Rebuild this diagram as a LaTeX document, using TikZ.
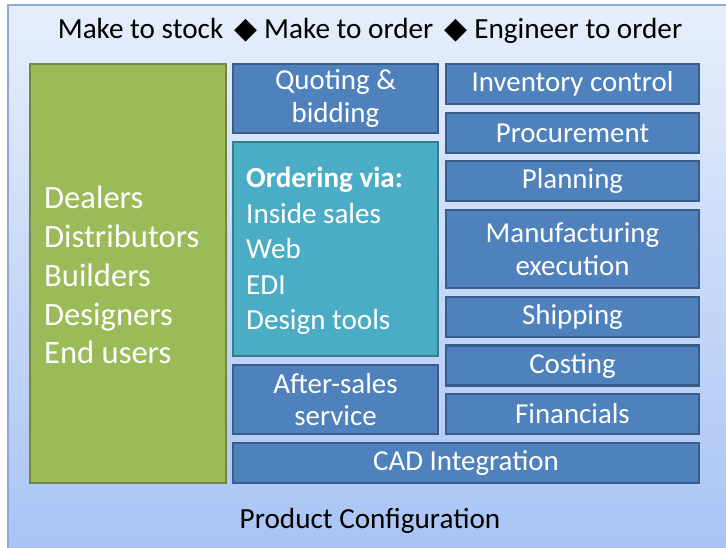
\documentclass[tikz,border=0pt]{standalone}
\usepackage{fontspec}
\setmainfont{Carlito}
\newfontfamily\dejavu{DejaVu Sans}
\definecolor{bgtop}{HTML}{E6EEFB}
\definecolor{bgbot}{HTML}{A8C4F5}
\definecolor{frameC}{HTML}{8FA9D6}
\definecolor{blueF}{HTML}{4F81BD}
\definecolor{blueD}{HTML}{385D8A}
\definecolor{greenF}{HTML}{9BBB59}
\definecolor{greenD}{HTML}{71893F}
\definecolor{tealF}{HTML}{4BACC6}
\definecolor{tealD}{HTML}{357D91}
\newcommand{\dmd}{\hspace{11bp}{\dejavu\fontsize{30}{30}\selectfont ◆}\hspace{7bp}}
\tikzset{
  bluebox/.style={draw=blueD, fill=blueF, line width=2.2bp, inner sep=0pt,
    text=white, align=center, font=\fontsize{29}{34}\selectfont},
  greenbox/.style={draw=greenD, fill=greenF, line width=2.2bp, inner sep=0pt},
  tealbox/.style={draw=tealD, fill=tealF, line width=2.2bp, inner sep=0pt},
  listtext/.style={text=white, align=left, inner sep=0pt, anchor=west},
  plaintext/.style={text=black, inner sep=0pt, font=\fontsize{29.3}{34}\selectfont}
}
\begin{document}
\begin{tikzpicture}[x=1bp,y=-1bp]
\useasboundingbox (0,0) rectangle (726,548);
% background frame
\shade[top color=bgtop, bottom color=bgbot] (8,5) rectangle (730,552);
\draw[frameC, line width=1.2bp] (8,552) -- (8,5) -- (730,5);
% top and bottom labels
\node[plaintext] (modes) at (370,31) {Make to stock\dmd Make to order\dmd Engineer to order};
\node[plaintext] (pc) at (370,521) {Product Configuration};
% green column
\node[greenbox, minimum width=196bp, minimum height=419bp] (cust) at (128,273.5) {};
\node[listtext, font=\fontsize{32.7}{39}\selectfont] (custtxt) at (44,275) {Dealers\\Distributors\\Builders\\Designers\\End users};
% middle column
\node[bluebox, minimum width=205bp, minimum height=69bp] (quote) at (335.5,98.5) {\raisebox{-1.5bp}{Quoting \&}\\bidding};
\node[tealbox, minimum width=205bp, minimum height=214bp] (order) at (335.5,249) {};
\node[listtext, font=\fontsize{29.2}{35.5}\selectfont] (ordertxt) at (246,251) {\textbf{Ordering via:}\\Inside sales\\Web\\EDI\\Design tools};
\node[bluebox, minimum width=205bp, minimum height=69bp] (after) at (335.5,399.5) {\raisebox{-1.5bp}{After-sales}\\service};
% right column
\node[bluebox, minimum width=253bp, minimum height=40bp] (inv) at (572.5,84) {\raisebox{-1.5bp}{Inventory control}};
\node[bluebox, minimum width=253bp, minimum height=40bp] (proc) at (572.5,133) {\raisebox{-1.5bp}{Procurement}};
\node[bluebox, minimum width=253bp, minimum height=40bp] (plan) at (572.5,181) {\raisebox{-1.5bp}{Planning}};
\node[bluebox, minimum width=253bp, minimum height=78bp] (mfg) at (572.5,249) {\raisebox{-1.5bp}{Manufacturing}\\execution};
\node[bluebox, minimum width=253bp, minimum height=40bp] (ship) at (572.5,317) {\raisebox{-1.5bp}{Shipping}};
\node[bluebox, minimum width=253bp, minimum height=40bp] (cost) at (572.5,365.5) {\raisebox{-1.5bp}{Costing}};
\node[bluebox, minimum width=253bp, minimum height=40bp] (fin) at (572.5,414) {\raisebox{-1.5bp}{Financials}};
% bottom bar
\node[bluebox, minimum width=466bp, minimum height=40bp] (cad) at (466,463) {\raisebox{-1.5bp}{CAD Integration}};
\end{tikzpicture}
\end{document}
